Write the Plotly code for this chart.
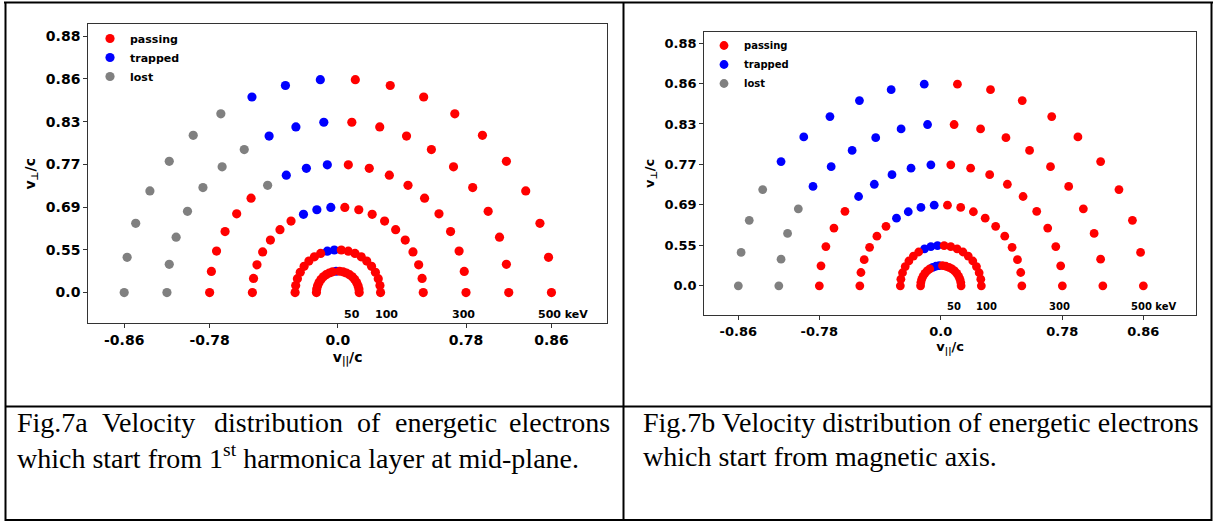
import math
import plotly.graph_objects as go

W, H = 1215, 521

# Kinetic energy of each launched ring (keV); one plot unit = 100 keV
energies_kev = [50, 100, 200, 300, 400, 500]
KEV_PER_UNIT = 100.0

# Initial pitch angles (deg) of the launched electrons, 0 = along +v_par
pitch_deg = [0.0, 9.5, 18.9, 28.4, 37.9, 47.4, 56.8, 66.3, 75.8, 85.3,
             94.7, 104.2, 113.7, 123.2, 132.6, 142.1, 151.6, 161.1, 170.5, 180.0]

# Orbit class per pitch angle for each energy: P = passing, T = trapped, L = lost
status_midplane = [
    "PPPPPPPPPPTPPPPPPPPP",   # 50 keV
    "PPPPPPPPPPTTPPPPPPPP",   # 100 keV
    "PPPPPPPPPPTTTPPPPPPP",   # 200 keV
    "PPPPPPPPPPTTTLPPPPPP",   # 300 keV
    "PPPPPPPPPPTTTLLLLLLL",   # 400 keV
    "PPPPPPPPPPTTTLLLLLLL",   # 500 keV
]
status_axis = [
    "PPPPPPPPPPTTTPPPPPPP",   # 50 keV
    "PPPPPPPPPPTTTPPPPPPP",   # 100 keV
    "PPPPPPPPPPTTTTPPPPPP",   # 200 keV
    "PPPPPPPPPPTTTTTPPPPP",   # 300 keV
    "PPPPPPPPPPTTTTTTLLLL",   # 400 keV
    "PPPPPPPPPPTTTTTTLLLL",   # 500 keV
]

# Axis ticks: positions in keV, labels give the matching v/c
y_tick_kev = [0, 100, 200, 300, 400, 500, 600]
y_tick_text = ["0.0", "0.55", "0.69", "0.77", "0.83", "0.86", "0.88"]
x_tick_kev = [-500, -300, 0, 300, 500]
x_tick_text = ["-0.86", "-0.78", "0.0", "0.78", "0.86"]

# Energy labels written under the rings
ring_label_text = ["50", "100", "300", "500 keV"]
ring_label_kev = [33, 113, 294, 527]
ring_label_y_kev = -52

classes = [
    ("P", "passing", "red", 1),
    ("T", "trapped", "blue", 2),
    ("L", "lost", "gray", 3),
]
draw_order = ["L", "T", "P"]


def ring_points(status_rows, code):
    xs, ys = [], []
    for e, row in zip(energies_kev, status_rows):
        r = e / KEV_PER_UNIT
        for ang, s in zip(pitch_deg, row):
            if s == code:
                a = math.radians(ang)
                xs.append(r * math.cos(a))
                ys.append(r * math.sin(a))
    return xs, ys


def px_x(p):
    return p / W


def px_y(p):
    return 1 - p / H


panels = [
    dict(rows=status_midplane, xa="x", ya="y", leg="legend",
         dom_x=(88.3, 607.0), dom_y=(323.3, 24.3), fs=14, lfs=11, ms=9.2,
         leg_xy=(90, 24)),
    dict(rows=status_axis, xa="x2", ya="y2", leg="legend2",
         dom_x=(704.3, 1196.0), dom_y=(315.0, 31.7), fs=13, lfs=10, ms=8.8,
         leg_xy=(704, 31)),
]

fig = go.Figure()
bold = dict(family="DejaVu Sans", color="black", weight="bold")
line_col = "#333333"

for i, p in enumerate(panels):
    info = {c[0]: c for c in classes}
    for code in draw_order:
        _, name, color, rank = info[code]
        xs, ys = ring_points(p["rows"], code)
        fig.add_trace(go.Scatter(
            x=xs, y=ys, mode="markers", name=name,
            marker=dict(color=color, size=p["ms"], line=dict(width=0)),
            xaxis=p["xa"], yaxis=p["ya"], legend=p["leg"], legendrank=rank,
            hoverinfo="skip",
        ))
    for t, xk in zip(ring_label_text, ring_label_kev):
        fig.add_annotation(
            x=xk / KEV_PER_UNIT, y=ring_label_y_kev / KEV_PER_UNIT,
            xref=p["xa"], yref=p["ya"], text=t, showarrow=False,
            font=dict(size=p["lfs"], **bold), xanchor="center", yanchor="middle",
        )

    axis_common = dict(
        showline=True, linecolor=line_col, linewidth=1.2, mirror=True,
        showgrid=False, zeroline=False, ticks="outside", ticklen=4,
        tickwidth=1.2, tickcolor=line_col,
        tickfont=dict(size=p["fs"], **bold),
    )
    suffix = "" if i == 0 else "2"
    fig.update_layout({
        "xaxis" + suffix: dict(
            domain=[px_x(p["dom_x"][0]), px_x(p["dom_x"][1])],
            range=[-5.84, 6.30], anchor=p["ya"],
            tickvals=[v / KEV_PER_UNIT for v in x_tick_kev], ticktext=x_tick_text,
            title=dict(text="v<sub>||</sub>/c", font=dict(size=p["fs"], **bold),
                       standoff=4),
            **axis_common,
        ),
        "yaxis" + suffix: dict(
            domain=[px_y(p["dom_y"][0]), px_y(p["dom_y"][1])],
            range=[-0.72, 6.28], anchor=p["xa"],
            tickvals=[v / KEV_PER_UNIT for v in y_tick_kev], ticktext=y_tick_text,
            title=dict(text="v<sub>⊥</sub>/c", font=dict(size=p["fs"], **bold),
                       standoff=6),
            **axis_common,
        ),
        p["leg"]: dict(
            x=px_x(p["leg_xy"][0]), y=px_y(p["leg_xy"][1]),
            xanchor="left", yanchor="top", bgcolor="rgba(0,0,0,0)",
            borderwidth=0, font=dict(size=p["lfs"], **bold),
            itemsizing="trace", tracegroupgap=0,
        ),
    })

# Table rules around the two figure cells and their captions
rules = [
    (4, 2.5, 1213, 2.5),
    (5.5, 2, 5.5, 521),
    (623.5, 2, 623.5, 521),
    (1211.5, 2, 1211.5, 521),
    (5, 406.5, 1212, 406.5),
    (5, 520, 1212, 520),
]
for x0, y0, x1, y1 in rules:
    fig.add_shape(type="line", xref="paper", yref="paper",
                  x0=px_x(x0), y0=px_y(y0), x1=px_x(x1), y1=px_y(y1),
                  line=dict(color="black", width=2))

cap_font = dict(family="Liberation Serif", size=28, color="black")
# First caption line is justified across the left cell
cap_a_words = ["Fig.7a", "Velocity", "distribution", "of", "energetic", "electrons"]
cap_a_word_x = [15, 100.4, 211.5, 355.4, 393.0, 612]
for k, (w, xw) in enumerate(zip(cap_a_words, cap_a_word_x)):
    fig.add_annotation(
        x=px_x(xw), y=px_y(422), xref="paper", yref="paper", text=w,
        showarrow=False, font=cap_font,
        xanchor="right" if k == len(cap_a_words) - 1 else "left", yanchor="middle",
    )
captions = [
    ("which start from 1<sup>st</sup> harmonica layer at mid-plane.", 15, 456),
    ("Fig.7b Velocity distribution of energetic electrons", 641, 422),
    ("which start from magnetic axis.", 641, 456),
]
for t, xc, yc in captions:
    fig.add_annotation(
        x=px_x(xc), y=px_y(yc), xref="paper", yref="paper", text=t,
        showarrow=False, font=cap_font, xanchor="left", yanchor="middle",
    )

fig.update_layout(
    width=W, height=H, margin=dict(l=0, r=0, t=0, b=0),
    paper_bgcolor="white", plot_bgcolor="white",
)

fig.write_html("out.html")
